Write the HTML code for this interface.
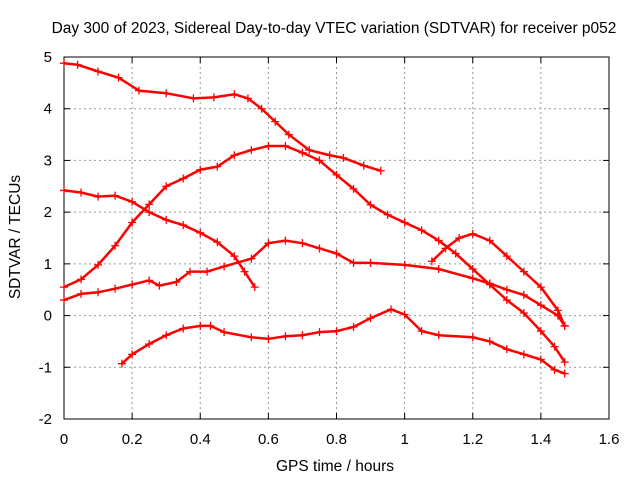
<!DOCTYPE html>
<html><head><meta charset="utf-8"><style>
body{margin:0;background:#fff}
svg{display:block;font-family:"Liberation Sans",sans-serif}
</style></head><body>
<svg id="chart" width="640" height="480">
<text x="334" y="33" font-size="15.5" text-anchor="middle">Day 300 of 2023, Sidereal Day-to-day VTEC variation (SDTVAR) for receiver p052</text>
<text x="335" y="471" font-size="15.5" text-anchor="middle">GPS time / hours</text>
<text transform="translate(20,237) rotate(-90)" font-size="15.5" text-anchor="middle">SDTVAR / TECUs</text>
<g id="grid"></g><g id="marks"></g>
</svg>
<script>
const xTicks=[0,0.2,0.4,0.6,0.8,1,1.2,1.4,1.6];
const xTickLabels=["0","0.2","0.4","0.6","0.8","1","1.2","1.4","1.6"];
const yTicks=[-2,-1,0,1,2,3,4,5];
const yTickLabels=["-2","-1","0","1","2","3","4","5"];
const sAx=[0,0.04,0.1,0.16,0.22,0.3,0.38,0.44,0.5,0.54,0.58,0.62,0.66,0.72,0.78,0.82,0.88,0.93];
const sAy=[4.88,4.85,4.72,4.6,4.35,4.3,4.2,4.22,4.28,4.2,4.0,3.75,3.5,3.2,3.1,3.05,2.9,2.8];
const sBx=[0,0.05,0.1,0.15,0.2,0.25,0.3,0.35,0.4,0.45,0.5,0.55,0.6,0.65,0.7,0.75,0.8,0.85,0.9,0.95,1.0,1.05,1.1,1.15,1.2,1.25,1.3,1.35,1.4,1.44,1.47];
const sBy=[0.55,0.7,0.98,1.35,1.8,2.15,2.5,2.65,2.82,2.88,3.1,3.2,3.28,3.28,3.15,3.0,2.72,2.45,2.14,1.95,1.8,1.65,1.45,1.2,0.9,0.6,0.3,0.05,-0.3,-0.6,-0.9];
const sCx=[0,0.05,0.1,0.15,0.2,0.25,0.3,0.35,0.4,0.45,0.5,0.53,0.56];
const sCy=[2.42,2.38,2.3,2.32,2.2,2.0,1.85,1.75,1.6,1.42,1.15,0.85,0.55];
const sDx=[0,0.05,0.1,0.15,0.2,0.25,0.28,0.33,0.37,0.42,0.47,0.55,0.6,0.65,0.7,0.75,0.8,0.85,0.9,1.0,1.1,1.2,1.25,1.3,1.35,1.4,1.45,1.47];
const sDy=[0.3,0.42,0.45,0.52,0.6,0.68,0.58,0.65,0.85,0.85,0.95,1.1,1.4,1.45,1.4,1.3,1.2,1.02,1.02,0.98,0.9,0.72,0.62,0.5,0.4,0.2,0.0,-0.2];
const sEx=[1.08,1.12,1.16,1.2,1.25,1.3,1.35,1.4,1.45,1.47];
const sEy=[1.05,1.3,1.5,1.58,1.45,1.15,0.85,0.55,0.1,-0.2];
const sFx=[0.17,0.2,0.25,0.3,0.35,0.4,0.43,0.47,0.55,0.6,0.65,0.7,0.75,0.8,0.85,0.9,0.96,1.0,1.05,1.1,1.2,1.25,1.3,1.35,1.4,1.44,1.47];
const sFy=[-0.93,-0.75,-0.55,-0.38,-0.25,-0.2,-0.2,-0.32,-0.42,-0.45,-0.4,-0.38,-0.32,-0.3,-0.22,-0.05,0.12,0.02,-0.3,-0.38,-0.42,-0.5,-0.65,-0.75,-0.85,-1.05,-1.12];
const seriesX=[sAx,sBx,sCx,sDx,sEx,sFx];
const seriesY=[sAy,sBy,sCy,sDy,sEy,sFy];
const X0=64,X1=609,Y0=419,Y1=57;
const xs=v=>X0+(v-0)/(1.6-0)*(X1-X0);
const ys=v=>Y0-(v+2)/7*(Y0-Y1);
const NS="http://www.w3.org/2000/svg";
function mk(t,a,p){const e=document.createElementNS(NS,t);for(const k in a)e.setAttribute(k,a[k]);p.appendChild(e);return e;}
const g=document.getElementById('grid'),m=document.getElementById('marks');
xTicks.forEach((v,i)=>{const x=xs(v);
 if(i>0&&i<xTicks.length-1){const l=mk('line',{x1:x,x2:x,y1:Y1,y2:Y0,stroke:'#999','stroke-dasharray':'2,3'},g);
 
 }
 mk('line',{x1:x,x2:x,y1:Y0,y2:Y0-6,stroke:'#000'},g);mk('line',{x1:x,x2:x,y1:Y1,y2:Y1+6,stroke:'#000'},g);
 const t=mk('text',{x:x,y:444,'font-size':15,'text-anchor':'middle'},g);t.textContent=xTickLabels[i];
 
 });
yTicks.forEach((v,i)=>{const y=ys(v);
 if(i>0&&i<yTicks.length-1){const l=mk('line',{x1:X0,x2:X1,y1:y,y2:y,stroke:'#999','stroke-dasharray':'2,3'},g);
 
 }
 mk('line',{x1:X0,x2:X0+6,y1:y,y2:y,stroke:'#000'},g);mk('line',{x1:X1,x2:X1-6,y1:y,y2:y,stroke:'#000'},g);
 const t=mk('text',{x:52,y:y+5,'font-size':15,'text-anchor':'end'},g);t.textContent=yTickLabels[i];
 
 });
const fr=mk('rect',{x:X0,y:Y1,width:X1-X0,height:Y0-Y1,fill:'none',stroke:'#000'},g);


seriesX.forEach((sx,si)=>{const sy=seriesY[si];
 const gg=mk('g',{},m);
 
 
 mk('polyline',{points:sx.map((v,i)=>xs(v)+','+ys(sy[i])).join(' '),fill:'none',stroke:'#f00','stroke-width':2.5},gg);
 sx.forEach((v,i)=>{const x=xs(v),y=ys(sy[i]);
  const p=mk('path',{d:`M${x-4},${y}h8M${x},${y-4}v8`,stroke:'#f00','stroke-width':1.3},gg);
  
  });
});
</script>
</body></html>
